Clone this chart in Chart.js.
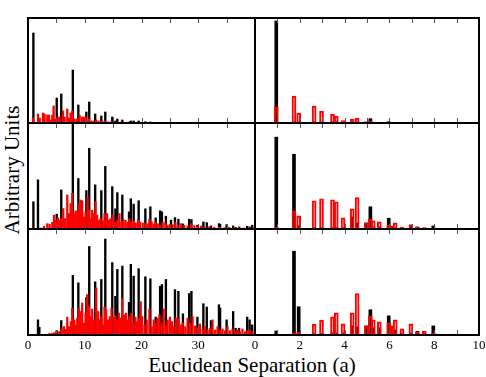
<!DOCTYPE html>
<html>
<head>
<meta charset="utf-8">
<script src="https://cdn.jsdelivr.net/npm/chart.js@4.4.0/dist/chart.umd.min.js"></script>
<style>
body { margin: 0; background: #fff; overflow: hidden; }
#wrap { position: relative; width: 486px; height: 377px; overflow: hidden; background: #fff; }
.panel { position: absolute; }
.title { position: absolute; font-family: 'Liberation Serif', serif; font-size: 21px; line-height: 1; color: #000; white-space: nowrap; }
#ytitle { left: 12px; top: 170px; transform: translate(-50%, -50%) rotate(-90deg); }
#xtitle { left: 252px; top: 355px; transform: translateX(-50%); }
</style>
</head>
<body>
<div id="wrap">
  <div class="title" id="ytitle">Arbitrary Units</div>
  <div class="title" id="xtitle">Euclidean Separation (a)</div>
</div>
<script>
// left column: spike positions (a) shared by the black series
var leftX = [0.95, 1.76, 2.0, 5.06, 5.86, 7.9, 8.87, 9.45, 10.28, 10.79, 11.84, 12.92, 13.62, 14.85, 15.4, 15.74, 16.62, 17.8, 18.12, 18.62, 19.5, 20.68, 21.56, 22.5, 23.28, 23.6, 24.3, 25.2, 25.9, 26.5, 27.3, 28.4, 28.8, 29.85, 30.9, 31.5, 32.25, 33.65, 33.85, 35.0, 36.15, 36.6, 37.2, 38.62, 39.05, 39.5];
var blackTopL = [90, 0, 0, 25, 29, 53, 18, 0, 11, 21, 9, 7, 11, 6, 2, 4, 3, 1, 2, 2, 2, 1.3, 1, 0.5, 0.7, 0.5, 0.5, 0.4, 0.4, 0.3, 0.3, 0.3, 0.3, 0.2, 0.2, 0.2, 0.2, 0.2, 0.2, 0.2, 0.2, 0.2, 0.2, 0.2, 0.2, 0.2];
var blackMidL = [27, 48.7, 0, 14.7, 38.7, 104, 50, 28, 38, 80, 43.7, 38, 62, 42, 20, 36, 33.7, 17, 30, 24.7, 28, 20, 22, 11, 18, 17, 12.7, 8.7, 11.3, 9.7, 5, 9.7, 9.3, 3.7, 7, 6.3, 3, 5.3, 4.7, 4.3, 3, 1.5, 2, 2.7, 2, 3.7];
var blackBotL = [0, 15, 7.7, 4.3, 14.3, 59, 51.7, 0, 37, 87.7, 52.7, 55, 95, 71.7, 38.3, 65, 68.3, 32.3, 70, 58.3, 65.7, 57.7, 55.7, 17.7, 48.3, 50, 55, 10, 45, 43.3, 21, 41, 43.3, 17.7, 31, 27.7, 14.3, 30, 26.7, 15, 23.3, 6.7, 6.7, 17.7, 15, 10];

// left column: red series
var redTopX = [0.88, 1.76, 2.06, 2.64, 2.93, 3.4, 3.7, 3.99, 4.28, 4.52, 4.81, 5.28, 5.57, 6.16, 6.45, 6.92, 7.21, 7.5, 7.8, 8.21, 8.62, 9.09, 9.5, 9.85, 10.26, 10.73, 11.14, 11.55, 12.02, 12.43, 12.9, 13.48, 14.07, 14.65, 15.24, 15.83, 16.41, 17.0, 17.87, 18.75, 19.63, 20.5, 21.7, 22.85, 24.0];
var redTopY = [5, 9, 5, 10, 9, 8, 8, 3, 8, 17, 4, 6, 6, 12, 6, 14, 5, 10, 12, 4, 4, 8, 6, 6, 6, 4, 2, 2, 3, 2, 1.5, 2, 1, 1.3, 1, 1, 1, 0.7, 0.7, 0.5, 0.5, 0.5, 0.4, 0.3, 0.3];
var redMidX = [2.23, 2.82, 3.40, 3.81, 4.28, 4.58, 4.87, 5.28, 5.57, 5.92, 6.22, 6.51, 6.92, 7.21, 7.50, 7.80, 8.09, 8.38, 8.68, 8.97, 9.26, 9.55, 9.85, 10.14, 10.49, 10.73, 11.02, 11.31, 11.61, 11.90, 12.19, 12.48, 12.78, 13.19, 13.48, 13.95, 14.24, 14.53, 14.94, 15.30, 15.71, 16.12, 16.47, 16.82, 17.17, 17.52, 17.87, 18.23, 18.64, 18.99, 19.40, 19.75, 20.22, 20.68, 21.09, 21.39, 21.80, 22.15, 22.44, 22.85, 23.26, 23.73, 24.20, 24.61, 25.02, 25.49, 25.96, 26.37, 26.95, 27.54, 28.12, 28.71, 29.30, 29.88, 30.47, 31.05, 31.93, 32.81, 33.69, 34.57, 35.45, 36.33, 37.20, 38.08, 38.96, 39.55];
var redMidY = [1, 2.7, 5.3, 4.7, 6.7, 13.7, 8.7, 11.3, 8.7, 10.3, 20.3, 10.3, 33.7, 15.3, 25.3, 35.3, 15.3, 18, 17, 25.3, 28.7, 27, 12, 17, 31.3, 18.7, 10.3, 18.7, 15.3, 27, 13.7, 8.7, 10.3, 8, 15.3, 15.3, 8.7, 10.3, 13.7, 6.7, 8.7, 15.3, 7, 9.3, 8.7, 6.7, 10.3, 7, 8, 6, 9.3, 6.7, 6, 5.3, 5.3, 9.7, 7, 4.7, 7, 5.3, 3.3, 7, 6, 3.7, 4.7, 4.3, 6.3, 3.7, 5.3, 3.7, 3, 5.3, 3.3, 2.3, 3, 2, 2.3, 1.7, 2, 1.3, 1.7, 1.3, 1.3, 1, 1.3, 1];
var redBotX = [3.70, 4.17, 4.58, 4.99, 5.45, 5.92, 6.33, 6.63, 6.92, 7.21, 7.56, 7.80, 8.15, 8.38, 8.68, 8.97, 9.26, 9.55, 9.85, 10.14, 10.43, 10.73, 11.02, 11.31, 11.61, 12.02, 12.37, 12.60, 12.95, 13.25, 13.48, 13.77, 14.12, 14.42, 14.71, 15.06, 15.41, 15.71, 16.00, 16.29, 16.59, 16.94, 17.29, 17.58, 17.87, 18.23, 18.52, 18.93, 19.22, 19.51, 19.86, 20.10, 20.51, 20.92, 21.39, 21.80, 22.15, 22.44, 22.85, 23.15, 23.56, 23.91, 24.32, 24.61, 25.02, 25.37, 25.66, 26.07, 26.54, 26.95, 27.25, 27.71, 28.12, 28.53, 29.00, 29.41, 29.88, 30.29, 30.76, 31.17, 31.64, 32.05, 32.52, 32.99, 33.40, 33.87, 34.28, 34.74, 35.15, 35.56, 36.03, 36.50, 36.91, 37.32, 37.79, 38.26, 38.67, 39.08, 39.55];
var redBotY = [1.3, 1.7, 2.3, 3.3, 3.3, 6.3, 8.3, 5.7, 17.7, 8.3, 13.3, 26.7, 15, 10, 16.7, 26.7, 23.3, 31.7, 11.7, 21.7, 40, 28.3, 18.3, 25.7, 15, 46.7, 23.3, 15, 18.3, 10, 27.7, 25, 15, 18.3, 26.7, 17.7, 19, 15, 21.7, 16.7, 36, 20, 21.7, 15, 18.3, 21.7, 11.7, 17.7, 13.3, 16.7, 33, 18.3, 10, 15, 25.7, 8.3, 15, 11.7, 16.7, 20, 11.7, 25.7, 10, 15, 17.7, 13.3, 8.3, 16.7, 16.7, 10, 12.3, 8.3, 16.7, 11.7, 18.3, 9, 6.7, 11, 5.7, 8.3, 5, 6.7, 15, 5, 8.3, 5, 6, 4.3, 8.3, 4.3, 5.7, 3.3, 5, 3.3, 6, 3.3, 4, 5, 3.3];

// right column: shell positions (a), shared by both series
var rightX = [0.95, 1.74, 1.95, 2.64, 2.97, 3.46, 3.63, 3.93, 4.34, 4.56, 4.97, 5.15, 5.28, 5.55, 5.97, 6.06, 6.26, 6.56, 6.96, 7.25, 7.56, 7.96, 8.16, 8.63, 8.93, 9.52];
var redTopR = [16, 27, 10, 17, 12, 9, 7, 2.3, 4, 5, 1.3, 1.7, 0.8, 1, 0.7, 0.5, 0.7, 0.4, 0.3, 0.3, 0.3, 0.3, 0.2, 0.2, 0.2, 0.2];
var blackTopR = [102, 0, 0, 0, 0, 0, 0, 0, 0, 0, 0, 4.3, 0, 0, 1.3, 0, 0, 0, 0, 0, 0, 0, 0, 0, 0, 0];
var redMidR = [2, 18, 13, 28, 30, 29, 27, 11, 20, 31, 6, 10, 8, 7, 4, 3, 6, 2, 4, 2, 1.3, 1, 0.5, 0.3, 0.3, 0.3];
var blackMidR = [91, 74, 3, 1, 1, 1, 1, 1, 12, 6, 6, 22, 2, 2, 10.7, 2, 1, 0, 4, 2, 0, 3, 0, 0, 0, 0];
var redBotR = [0, 2, 3, 10.7, 14.7, 18, 22, 11, 22, 41, 9, 19, 15, 13, 12, 9, 15, 6, 11, 3, 4, 2, 1, 1, 1, 0.7];
var blackBotR = [4, 83, 28, 1, 1.5, 2, 2, 2, 9, 8, 9, 25, 7, 7, 19, 6, 5, 1, 2, 3.7, 1, 9, 0, 0, 0, 0];

var PAD = 20, AXIS_H = 22;
var cols = [
    { x0: 28, w: 227, max: 40, step: 10, minor: 5 },
    { x0: 255, w: 224, max: 10, step: 2, minor: 1 }
];
var rows = [{ y0: 18, h: 105 }, { y0: 123, h: 106 }, { y0: 229, h: 106 }];

function pairs(xs, ys) {
    return xs.map(function (x, i) { return { x: x, y: ys[i] }; });
}

// box round the plot area and inward ticks at top and bottom
var framePlugin = {
    id: 'frame',
    afterDatasetsDraw: function (chart, args, opts) {
        var a = chart.chartArea, ctx = chart.ctx, xs = chart.scales.x;
        ctx.save();
        ctx.strokeStyle = '#555';
        ctx.lineWidth = 1;
        var n = Math.round(xs.max / opts.minor);
        for (var i = 1; i < n; i++) {
            var px = Math.round(xs.getPixelForValue(i * opts.minor)) + 0.5;
            ctx.beginPath();
            ctx.moveTo(px, a.top); ctx.lineTo(px, a.top + 5);
            ctx.moveTo(px, a.bottom); ctx.lineTo(px, a.bottom - 5);
            ctx.stroke();
        }
        ctx.strokeStyle = '#000';
        ctx.lineWidth = 2;
        ctx.strokeRect(a.left, a.top, a.right - a.left, a.bottom - a.top);
        ctx.restore();
    }
};

function makePanel(col, row, datasets) {
    var c = cols[col], r = rows[row];
    var last = row === 2;
    var W = c.w + 2 * PAD, H = r.h + 2 * PAD + (last ? AXIS_H : 0);
    var div = document.createElement('div');
    div.className = 'panel';
    div.style.left = (c.x0 - PAD) + 'px';
    div.style.top = (r.y0 - PAD) + 'px';
    var canvas = document.createElement('canvas');
    canvas.width = W;
    canvas.height = H;
    div.appendChild(canvas);
    document.getElementById('wrap').appendChild(div);

    new Chart(canvas.getContext('2d'), {
        type: 'bar',
        data: { datasets: datasets },
        plugins: [framePlugin],
        options: {
            responsive: false,
            animation: false,
            events: [],
            layout: { padding: PAD },
            plugins: {
                legend: { display: false },
                tooltip: { enabled: false },
                frame: { minor: c.minor }
            },
            scales: {
                x: {
                    type: 'linear',
                    min: 0,
                    max: c.max,
                    offset: false,
                    display: last,
                    grid: { display: false, drawTicks: false, offset: false },
                    border: { display: false },
                    ticks: {
                        stepSize: c.step,
                        autoSkip: false,
                        maxRotation: 0,
                        padding: 3,
                        color: '#000',
                        font: { family: 'Liberation Serif', size: 13 },
                        callback: function (v) {
                            return (col === 0 && v === 40) ? '' : v;
                        }
                    },
                    afterFit: function (s) { s.height = last ? AXIS_H : 0; }
                },
                y: { display: false, min: 0, max: 105 }
            }
        }
    });
}

function spikes(redX, redY, blackY) {
    return [
        { data: pairs(redX, redY), backgroundColor: '#ff0000', barThickness: 1.6, grouped: false },
        { data: pairs(leftX, blackY), backgroundColor: '#000000', barThickness: 1.7, grouped: false }
    ];
}

function shells(redY, blackY) {
    return [
        { data: pairs(rightX, redY), backgroundColor: 'rgba(255,0,0,0.12)', borderColor: '#ff0000',
          borderWidth: 1.3, borderSkipped: false, barThickness: 4, grouped: false },
        { data: pairs(rightX, blackY), backgroundColor: '#000000', barThickness: 3, grouped: false }
    ];
}

makePanel(0, 0, spikes(redTopX, redTopY, blackTopL));
makePanel(0, 1, spikes(redMidX, redMidY, blackMidL));
makePanel(0, 2, spikes(redBotX, redBotY, blackBotL));
makePanel(1, 0, shells(redTopR, blackTopR));
makePanel(1, 1, shells(redMidR, blackMidR));
makePanel(1, 2, shells(redBotR, blackBotR));
</script>
</body>
</html>
